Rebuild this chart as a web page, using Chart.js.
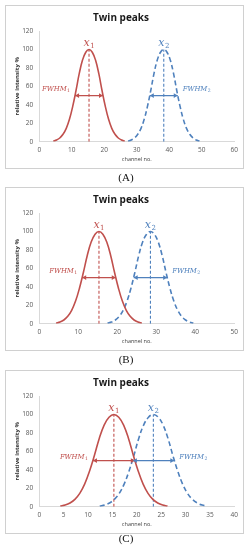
<!DOCTYPE html>
<html>
<head>
<meta charset="utf-8">
<script src="https://cdn.jsdelivr.net/npm/chart.js@4/dist/chart.umd.min.js"></script>
<style>
  body { margin: 0; width: 252px; height: 550px; background: #fff; position: relative; overflow: hidden; }
  .box { position: absolute; left: 5px; width: 239px; height: 164px; border: 1px solid #d0d0d0; box-sizing: border-box; }
  .box canvas { display: block; }
  .cap { position: absolute; left: 0; width: 252px; height: 14px; line-height: 14px; text-align: center;
         font-family: "Liberation Serif", serif; font-size: 11px; color: #111; will-change: transform; }
</style>
</head>
<body>
<div class="box" style="top:5px"><canvas id="chartA" width="237" height="162"></canvas></div>
<div class="cap" style="top:170px">(A)</div>
<div class="box" style="top:187px"><canvas id="chartB" width="237" height="162"></canvas></div>
<div class="cap" style="top:352px">(B)</div>
<div class="box" style="top:370px"><canvas id="chartC" width="237" height="162"></canvas></div>
<div class="cap" style="top:531px">(C)</div>

<script>
// relative intensity, read at 1-channel steps around each peak (same shape for every peak)
const peakY = [0.7, 1.8, 4.0, 8.0, 14.5, 24.5, 38.5, 55.5, 74.0, 88.5, 97.0, 100,
               97.0, 88.5, 74.0, 55.5, 38.5, 24.5, 14.5, 8.0, 4.0, 1.8, 0.7];

// channel positions of those readings
const redX = [4.3, 5.3, 6.3, 7.3, 8.3, 9.3, 10.3, 11.3, 12.3, 13.3, 14.3, 15.3,
              16.3, 17.3, 18.3, 19.3, 20.3, 21.3, 22.3, 23.3, 24.3, 25.3, 26.3];
const blueXA = [27.3, 28.3, 29.3, 30.3, 31.3, 32.3, 33.3, 34.3, 35.3, 36.3, 37.3, 38.3,
                39.3, 40.3, 41.3, 42.3, 43.3, 44.3, 45.3, 46.3, 47.3, 48.3, 49.3];
const blueXB = [17.5, 18.5, 19.5, 20.5, 21.5, 22.5, 23.5, 24.5, 25.5, 26.5, 27.5, 28.5,
                29.5, 30.5, 31.5, 32.5, 33.5, 34.5, 35.5, 36.5, 37.5, 38.5, 39.5];
const blueXC = [12.4, 13.4, 14.4, 15.4, 16.4, 17.4, 18.4, 19.4, 20.4, 21.4, 22.4, 23.4,
                24.4, 25.4, 26.4, 27.4, 28.4, 29.4, 30.4, 31.4, 32.4, 33.4, 34.4];

// peak centres and FWHM limits
const redCenter = 15.3;
const blueCenters = [38.3, 28.5, 23.4];
const redFwhm = [11.0, 19.6];
const blueFwhm = [[34.0, 42.6], [24.2, 32.8], [19.2, 27.7]];
const peakTop = 100;
const halfMax = 50;

// axes
const xMaxes = [60, 50, 40];
const xSteps = [10, 10, 5];
const yMax = 120;
const yStep = 20;

const RED = "#C0504D";
const BLUE = "#4F81BD";

function pts(xs, ys) {
  return xs.map((x, i) => ({ x: x, y: ys[i] }));
}

function drawHead(ctx, x, y, dir) {
  ctx.beginPath();
  ctx.moveTo(x, y);
  ctx.lineTo(x - dir * 4, y - 2.3);
  ctx.lineTo(x - dir * 4, y + 2.3);
  ctx.closePath();
  ctx.fill();
}

function drawSub(ctx, main, sub, x, y, size, subSize, align) {
  ctx.font = "italic " + size + "px 'DejaVu Serif'";
  const w1 = ctx.measureText(main).width;
  ctx.font = "italic " + subSize + "px 'DejaVu Serif'";
  const w2 = ctx.measureText(sub).width;
  const total = w1 + w2 + 0.5;
  let left = x;
  if (align === "center") left = x - total / 2;
  if (align === "right") left = x - total;
  ctx.textAlign = "left";
  ctx.textBaseline = "alphabetic";
  ctx.font = "italic " + size + "px 'DejaVu Serif'";
  ctx.fillText(main, left, y);
  ctx.font = subSize + "px 'DejaVu Serif'";
  ctx.fillText(sub, left + w1 + 0.5, y + size * 0.22);
}

const marks = {
  id: "marks",
  afterDatasetsDraw(chart, args, opts) {
    const { ctx, scales: { x, y } } = chart;
    ctx.save();
    chart.data.datasets.forEach((ds) => {
      if (!ds.arrow) return;
      ctx.fillStyle = ds.borderColor;
      const py = y.getPixelForValue(ds.data[0].y);
      drawHead(ctx, x.getPixelForValue(ds.data[0].x), py, -1);
      drawHead(ctx, x.getPixelForValue(ds.data[1].x), py, 1);
    });
    const top = y.getPixelForValue(104);
    ctx.fillStyle = RED;
    drawSub(ctx, "x", "1", x.getPixelForValue(redCenter), top, 11, 7, "center");
    ctx.fillStyle = BLUE;
    drawSub(ctx, "x", "2", x.getPixelForValue(opts.blueCenter), top, 11, 7, "center");

    const fy = y.getPixelForValue(opts.labelY);
    ctx.fillStyle = RED;
    drawSub(ctx, "FWHM", "1", x.getPixelForValue(redFwhm[0]) - 5, fy, 6.8, 4.6, "right");
    ctx.fillStyle = BLUE;
    drawSub(ctx, "FWHM", "2", x.getPixelForValue(opts.blueFwhm[1]) + 5, fy, 6.8, 4.6, "left");
    ctx.restore();
  }
};

function makeChart(id, i, blueX, labelY) {
  const bc = blueCenters[i];
  new Chart(document.getElementById(id), {
    type: "line",
    data: {
      datasets: [
        { data: pts(redX, peakY), borderColor: RED, borderWidth: 1.6, tension: 0.4 },
        { data: pts(blueX, peakY), borderColor: BLUE, borderWidth: 1.6, borderDash: [5, 3], tension: 0.4 },
        { data: [{ x: redCenter, y: 0 }, { x: redCenter, y: peakTop }], borderColor: RED, borderWidth: 1.1, borderDash: [3, 2] },
        { data: [{ x: bc, y: 0 }, { x: bc, y: peakTop }], borderColor: BLUE, borderWidth: 1.1, borderDash: [3, 2] },
        { data: [{ x: redFwhm[0], y: halfMax }, { x: redFwhm[1], y: halfMax }], borderColor: RED, borderWidth: 1.2, arrow: true },
        { data: [{ x: blueFwhm[i][0], y: halfMax }, { x: blueFwhm[i][1], y: halfMax }], borderColor: BLUE, borderWidth: 1.2, arrow: true }
      ]
    },
    options: {
      responsive: false,
      animation: false,
      events: [],
      elements: { point: { radius: 0 } },
      layout: { padding: { left: 0, right: 7, top: 0, bottom: 0 } },
      plugins: {
        legend: { display: false },
        tooltip: { enabled: false },
        title: {
          display: true,
          text: "Twin peaks",
          color: "#1a1a1a",
          font: { family: "Open Sans", size: 10, weight: "bold" },
          padding: { top: 6, bottom: 7 }
        },
        marks: { blueCenter: bc, blueFwhm: blueFwhm[i], labelY: labelY }
      },
      scales: {
        x: {
          type: "linear",
          min: 0,
          max: xMaxes[i],
          ticks: { stepSize: xSteps[i], color: "#595959", font: { family: "Open Sans", size: 6.5 }, padding: 5, maxRotation: 0 },
          grid: { display: false, drawTicks: false },
          border: { color: "#d9d9d9", width: 1 },
          title: { display: true, text: "channel no.", color: "#404040", font: { family: "Open Sans", size: 5.5 }, padding: { top: 0, bottom: 5.4 } },
          afterFit: (s) => { s.height = 26.3; }
        },
        y: {
          min: 0,
          max: yMax,
          ticks: { stepSize: yStep, color: "#595959", font: { family: "Open Sans", size: 6.5 }, padding: 6 },
          grid: { display: false, drawTicks: false },
          border: { color: "#d9d9d9", width: 1 },
          title: { display: true, text: "relative intensity %", color: "#333", font: { family: "Open Sans", size: 6, weight: "bold" }, padding: { top: 8, bottom: 0 } },
          afterFit: (s) => { s.width = 33.3; }
        }
      }
    },
    plugins: [marks]
  });
}

makeChart("chartA", 0, blueXA, 55);
makeChart("chartB", 1, blueXB, 55);
makeChart("chartC", 2, blueXC, 52);
</script>
</body>
</html>
